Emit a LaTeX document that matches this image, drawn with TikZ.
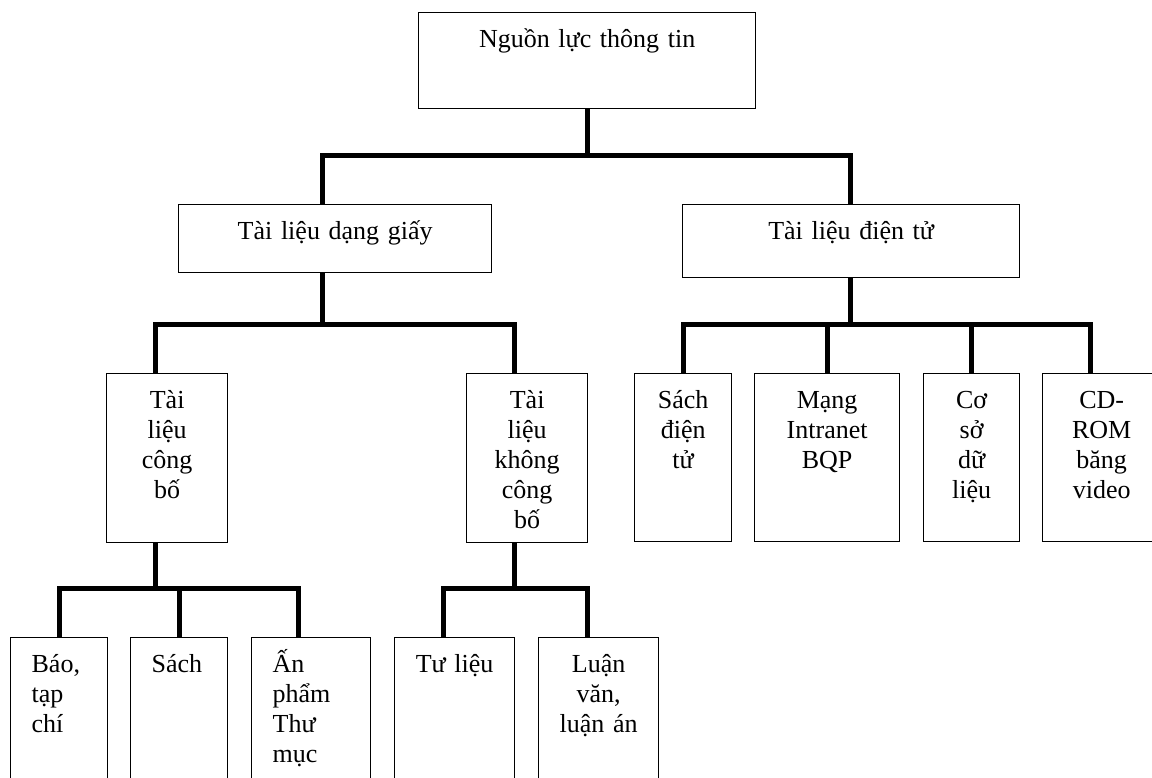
\documentclass[tikz,border=0pt]{standalone}
\usepackage{fontspec}
\setmainfont{Liberation Serif}
\tikzset{
  box/.style={draw, line width=1.3pt, inner sep=0pt, anchor=north west,
              font=\fontsize{26}{30}\selectfont, text height=35pt},
  ctr/.style={align=center},
  lft/.style={align=left, inner xsep=21pt},
  conn/.style={line width=5pt, line join=miter},
}
\begin{document}
\begin{tikzpicture}[x=1pt,y=1pt]
\useasboundingbox (0,0) rectangle (1152,-778);
\clip (0,0) rectangle (1152,-778);
% level 0
\node[box,ctr,text width=337pt,text depth=61pt] (root) at (418,-12) {Nguồn lực thông tin};
% level 1
\node[box,ctr,text width=313pt,text depth=33pt] (paper) at (178,-204) {Tài liệu dạng giấy};
\node[box,ctr,text width=337pt,text depth=38pt] (elec) at (682,-204) {Tài liệu điện tử};
% level 2 (paper)
\node[box,ctr,text width=121pt,text depth=134pt] (pub) at (106,-373) {Tài\\liệu\\công\\bố};
\node[box,ctr,text width=121pt,text depth=134pt] (unpub) at (466,-373) {Tài\\liệu\\không\\công\\bố};
% level 2 (electronic)
\node[box,ctr,text width=97pt,text depth=133pt] (sde) at (634,-373) {Sách\\điện\\tử};
\node[box,ctr,text width=145pt,text depth=133pt] (mang) at (754,-373) {Mạng\\Intranet\\BQP};
\node[box,ctr,text width=96pt,text depth=133pt] (csdl) at (923,-373) {Cơ\\sở\\dữ\\liệu};
\node[box,ctr,text width=118pt,text depth=133pt] (cdrom) at (1042,-373) {CD-\\ROM\\băng\\video};
% level 3
\node[box,lft,text width=55pt,text depth=118pt] (bao) at (10,-637) {Báo,\\tạp\\chí};
\node[box,lft,text width=55pt,text depth=118pt] (sach) at (130,-637) {Sách};
\node[box,lft,text width=77pt,text depth=118pt] (an) at (251,-637) {Ấn\\phẩm\\Thư\\mục};
\node[box,ctr,text width=120pt,text depth=118pt] (tulieu) at (394,-637) {Tư liệu};
\node[box,ctr,text width=120pt,text depth=118pt] (luan) at (538,-637) {Luận\\văn,\\luận án};
% junctions
\coordinate (jTop) at (587,-156);
\coordinate (jP) at (322,-324);
\coordinate (jE) at (850,-324);
\coordinate (jPub) at (155,-588);
\coordinate (jU) at (514,-588);
% connectors
\draw[conn] (root.south -| jTop) -- (jTop);
\draw[conn] (paper.north -| 322,0) |- (jTop) -| (elec.north -| jE);
\draw[conn] (paper.south -| jP) -- (jP);
\draw[conn] (pub.north -| 155,0) |- (jP) -| (unpub.north -| 514,0);
\draw[conn] (elec.south -| jE) -- (jE);
\draw[conn] (sde.north) |- (jE) -| (cdrom.north -| 1090,0);
\draw[conn] (mang.north) -- (mang.north |- jE);
\draw[conn] (csdl.north) -- (csdl.north |- jE);
\draw[conn] (pub.south -| jPub) -- (jPub);
\draw[conn] (bao.north) |- (jPub) -| (an.north -| 298,0);
\draw[conn] (sach.north) -- (sach.north |- jPub);
\draw[conn] (unpub.south -| jU) -- (jU);
\draw[conn] (tulieu.north -| 443,0) |- (jU) -| (luan.north -| 587,0);
\end{tikzpicture}
\end{document}
